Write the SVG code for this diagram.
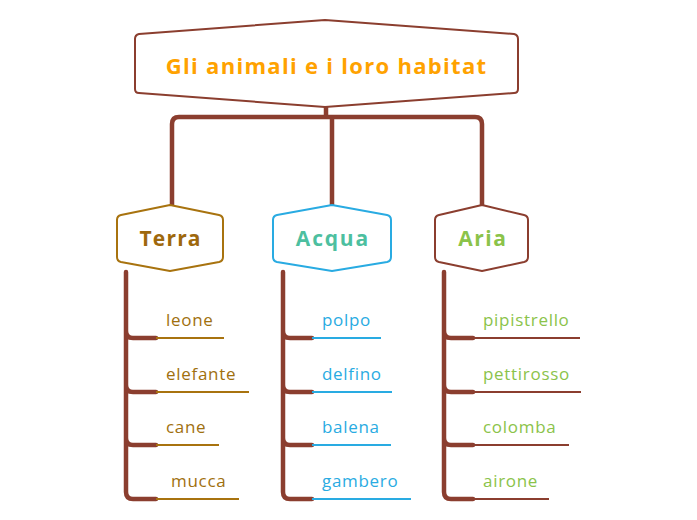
<svg xmlns="http://www.w3.org/2000/svg" width="697" height="520" viewBox="0 0 697 520">
<style>
.conn{fill:none;stroke:#8B3E2F;stroke-width:4.5;stroke-linecap:round;stroke-linejoin:round}
.shape{fill:#fff;stroke-width:2;stroke-linejoin:round}
.title{font-family:"Open Sans","Liberation Sans",sans-serif;font-weight:bold;text-anchor:middle}
.lbl{font-family:"Open Sans","Liberation Sans",sans-serif;font-size:17px;letter-spacing:0.7px}
.ul{fill:none;stroke-width:2}
</style>
<rect width="697" height="520" fill="#fff"/>
<g id="connectors">
<path class="conn" d="M326,107 V117 M172,205 V124 Q172,117 179,117 H475 Q482,117 482,124 V205 M332,117 V205"/>
<path class="conn" d="M126,272 V492 Q126,499 133,499 H156 M126,331 Q126,338 133,338 H156 M126,385 Q126,392 133,392 H156 M126,438 Q126,445 133,445 H156"/>
<path class="conn" d="M283,272 V492 Q283,499 290,499 H312 M283,331 Q283,338 290,338 H312 M283,385 Q283,392 290,392 H312 M283,438 Q283,445 290,445 H312"/>
<path class="conn" d="M444,272 V492 Q444,499 451,499 H473 M444,331 Q444,338 451,338 H473 M444,385 Q444,392 451,392 H473 M444,438 Q444,445 451,445 H473"/>
</g>
<g id="root">
<path class="shape" stroke="#8B3E2F" stroke-width="2.5" d="M139,34 L325,20 L514,34 Q518,35 518,39 V89 Q518,93 514,93 L325,107 L139,93 Q135,93 135,89 V39 Q135,35 139,34 Z"/>
<text class="title" x="326.6" y="74" font-size="22" letter-spacing="1.3" fill="#FFA200">Gli animali e i loro habitat</text>
</g>
<g id="terra">
<path class="shape" stroke="#A8730F" d="M121,215 L170,205 L219,215 Q223,216 223,220 V257 Q223,261 219,262 L170,271 L121,262 Q117,261 117,257 V220 Q117,216 121,215 Z"/>
<text class="title" x="170.6" y="246" font-size="21" letter-spacing="1.2" fill="#9E680D">Terra</text>
</g>
<g id="acqua">
<path class="shape" stroke="#29ABE2" d="M277,215 L332,205 L387,215 Q391,216 391,220 V257 Q391,261 387,262 L332,271 L277,262 Q273,261 273,257 V220 Q273,216 277,215 Z"/>
<text class="title" x="332.9" y="246" font-size="21" letter-spacing="1.8" fill="#4DBFA0">Acqua</text>
</g>
<g id="aria">
<path class="shape" stroke="#8B3E2F" d="M439,215 L482,205 L524,215 Q528,216 528,220 V257 Q528,261 524,262 L482,271 L439,262 Q435,261 435,257 V220 Q435,216 439,215 Z"/>
<text class="title" x="482.8" y="246" font-size="21" letter-spacing="1.5" fill="#8BC34A">Aria</text>
</g>
<g id="terra-items" class="lbl" fill="#A0700E">
<g id="leone"><text x="166" y="326">leone</text><line class="ul" stroke="#A8730F" x1="156" y1="338" x2="224" y2="338"/></g>
<g id="elefante"><text x="166" y="380">elefante</text><line class="ul" stroke="#A8730F" x1="156" y1="392" x2="249" y2="392"/></g>
<g id="cane"><text x="166" y="433">cane</text><line class="ul" stroke="#A8730F" x1="156" y1="445" x2="219" y2="445"/></g>
<g id="mucca"><text x="171" y="487">mucca</text><line class="ul" stroke="#A8730F" x1="156" y1="499" x2="239" y2="499"/></g>
</g>
<g id="acqua-items" class="lbl" fill="#29ABE2">
<g id="polpo"><text x="322" y="326">polpo</text><line class="ul" stroke="#29ABE2" x1="312" y1="338" x2="381" y2="338"/></g>
<g id="delfino"><text x="322" y="380">delfino</text><line class="ul" stroke="#29ABE2" x1="312" y1="392" x2="392" y2="392"/></g>
<g id="balena"><text x="322" y="433">balena</text><line class="ul" stroke="#29ABE2" x1="312" y1="445" x2="391" y2="445"/></g>
<g id="gambero"><text x="322" y="487">gambero</text><line class="ul" stroke="#29ABE2" x1="312" y1="499" x2="411" y2="499"/></g>
</g>
<g id="aria-items" class="lbl" fill="#8BC34A">
<g id="pipistrello"><text x="483" y="326">pipistrello</text><line class="ul" stroke="#8B3E2F" x1="473" y1="338" x2="580" y2="338"/></g>
<g id="pettirosso"><text x="483" y="380">pettirosso</text><line class="ul" stroke="#8B3E2F" x1="473" y1="392" x2="581" y2="392"/></g>
<g id="colomba"><text x="483" y="433">colomba</text><line class="ul" stroke="#8B3E2F" x1="473" y1="445" x2="569" y2="445"/></g>
<g id="airone"><text x="483" y="487">airone</text><line class="ul" stroke="#8B3E2F" x1="473" y1="499" x2="549" y2="499"/></g>
</g>
</svg>
